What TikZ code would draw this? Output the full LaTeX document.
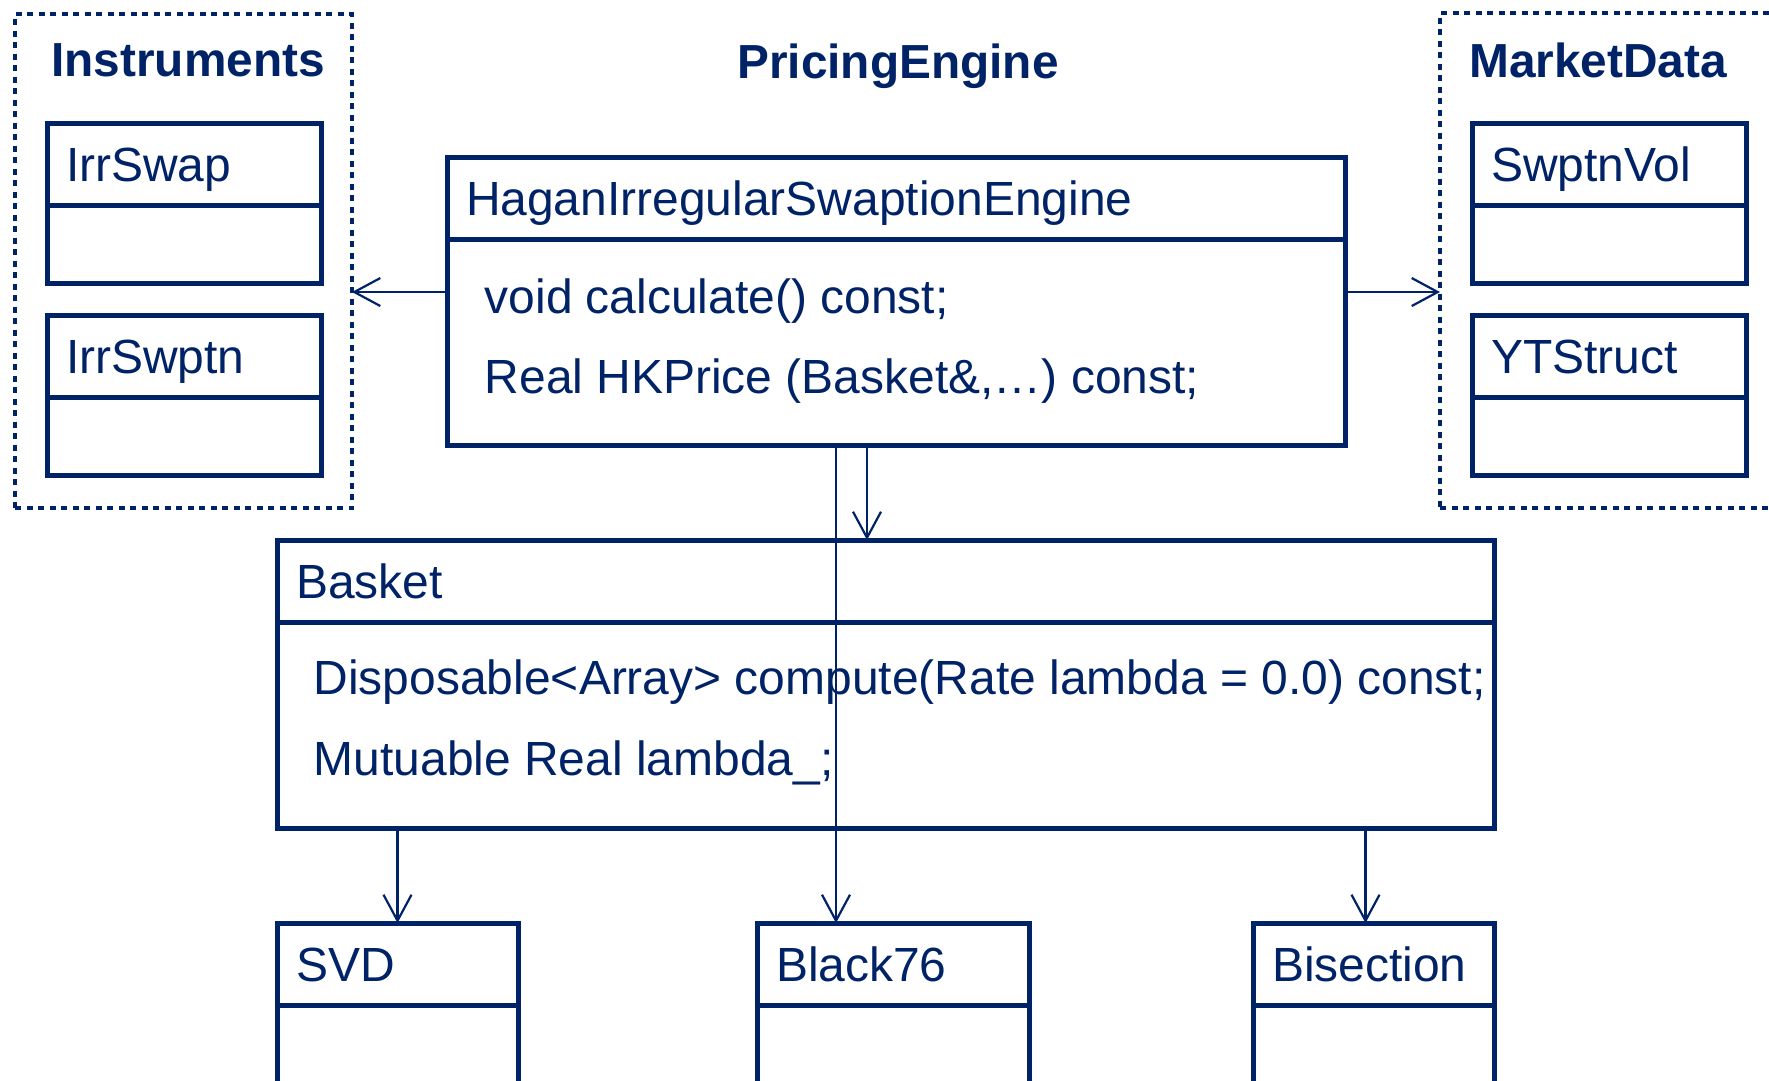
\documentclass[tikz,border=0pt]{standalone}
\usepackage{fontspec}
\setmainfont{Liberation Sans}
\usetikzlibrary{arrows.meta,positioning}
\definecolor{navy}{RGB}{0,34,102}
\tikzset{
  every node/.style={text=navy, font=\fontsize{13.65}{16}\selectfont},
  title/.style={font=\fontsize{13.6}{16}\selectfont\bfseries, anchor=base, inner sep=0pt},
  group/.style={draw=navy, line width=0.42mm, dash pattern=on 0.6mm off 0.55mm,
    anchor=north west, outer sep=0pt, inner sep=0pt},
  head/.style={draw=navy, line width=0.5mm, anchor=north west, outer sep=0pt,
    inner xsep=1.9mm, inner ysep=0pt, align=left, minimum height=8.2mm,
    text height=1.06em, text depth=0.09em},
  body/.style={draw=navy, line width=0.5mm, outer sep=0pt, inner sep=0pt},
  member/.style={anchor=base west, inner sep=0pt},
  dep/.style={draw=navy, line width=0.22mm, -{Straight Barb[length=2.6mm, width=2.8mm]}},
}
\begin{document}
\begin{tikzpicture}[x=0.1mm, y=-0.1mm]
  \useasboundingbox (0,0) rectangle (1769,1080);
  \clip (0,0) rectangle (1769,1080);
%%
  % Node: instr
  \node[group, minimum width=33.7mm, minimum height=49.4mm] (instr) at (15,14) {};
  \node[title] (instrlbl) at (188,76) {Instruments};
  \node[head, text width=23.6mm] (swap) at (47,123) {IrrSwap};
  \node[body, minimum width=27.4mm, minimum height=7.8mm, below=0pt of swap] (swapb) {};
  \node[head, text width=23.6mm] (swptn) at (47,315) {IrrSwptn};
  \node[body, minimum width=27.4mm, minimum height=7.8mm, below=0pt of swptn] (swptnb) {};
  % Node: mkt
  \node[group, minimum width=40mm, minimum height=49.5mm] (mkt) at (1440,13) {};
  \node[title] (mktlbl) at (1598,77) {MarketData};
  \node[head, text width=23.6mm] (vol) at (1472,123) {SwptnVol};
  \node[body, minimum width=27.4mm, minimum height=7.8mm, below=0pt of vol] (volb) {};
  \node[head, text width=23.6mm] (yts) at (1472,315) {YTStruct};
  \node[body, minimum width=27.4mm, minimum height=7.8mm, below=0pt of yts] (ytsb) {};
  % Node: engine
  \node[title] (englbl) at (898,78) {PricingEngine};
  \node[head, text width=86mm] (engine) at (447,157) {HaganIrregularSwaptionEngine};
  \node[body, minimum width=89.8mm, minimum height=20.6mm, below=0pt of engine] (engineb) {};
  \node[member] (calc) at ([shift={(37,74)}]engineb.north west) {void calculate() const;};
  \node[member] (hkp) at ([shift={(37,154)}]engineb.north west) {Real HKPrice (Basket\&,…) const;};
  % Node: basket
  \node[head, text width=117.9mm] (basket) at (277,540) {Basket};
  \node[body, minimum width=121.7mm, minimum height=20.6mm, below=0pt of basket] (basketb) {};
  \node[member] (comp) at ([shift={(36,72)}]basketb.north west) {Disposable<Array> compute(Rate lambda = 0.0) const;};
  \node[member] (lam) at ([shift={(36,153)}]basketb.north west) {Mutuable Real lambda\_;};
  % Node: svd, black, bisect
  \node[head, text width=20.3mm] (svd) at (277,923) {SVD};
  \node[body, minimum width=24.1mm, minimum height=12mm, below=0pt of svd] (svdb) {};
  \node[head, text width=23.4mm] (black) at (757,923) {Black76};
  \node[body, minimum width=27.2mm, minimum height=12mm, below=0pt of black] (blackb) {};
  \node[head, text width=20.3mm] (bisect) at (1253,923) {Bisection};
  \node[body, minimum width=24.1mm, minimum height=12mm, below=0pt of bisect] (bisectb) {};
%%
  \coordinate (lnk) at (0,292);
  % Edge: engine -> instr
  \draw[dep] (engineb.west |- lnk) -- (instr.east |- lnk);
  % Edge: engine -> mkt
  \draw[dep] (engineb.east |- lnk) -- (mkt.west |- lnk);
  % Edge: engine -> basket
  \draw[dep] ([xshift=-2.9mm]engineb.south) -- ([xshift=-2.9mm]engineb.south |- basket.north);
  % Edge: engine -> black
  \draw[dep] ([xshift=-6mm]engineb.south) -- ([xshift=-6mm]engineb.south |- black.north);
  % Edge: basket -> svd
  \draw[dep] (svd.north |- basketb.south) -- (svd.north);
  % Edge: basket -> bisect
  \draw[dep] ([xshift=-0.8mm]bisect.north |- basketb.south) -- ([xshift=-0.8mm]bisect.north);
%
\end{tikzpicture}
\end{document}
